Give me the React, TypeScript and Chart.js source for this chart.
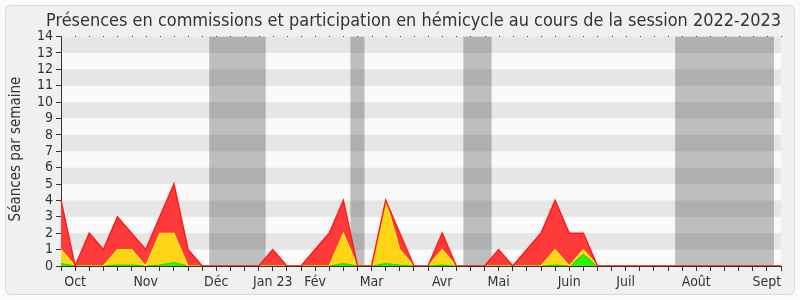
import React, { useEffect, useRef } from 'react';
import { Chart, registerables } from 'chart.js';

Chart.register(...registerables);

const FONT = '"DejaVu Sans Condensed", "DejaVu Sans", sans-serif';
const TEXT_COLOR = '#333333';

const titleText = 'Présences en commissions et participation en hémicycle au cours de la session 2022-2023';
const yAxisTitle = 'Séances par semaine';

// one category per week of the session
const weekLabels: string[] = [
  '', 'Oct', '', '', '', '', 'Nov', '', '', '', '',
  'Déc', '', '', '', 'Jan 23', '', '', 'Fév', '', '', '',
  'Mar', '', '', '', '', 'Avr', '', '', '', 'Mai', '', '', '', '',
  'Juin', '', '', '', 'Juil', '', '', '', '', 'Août', '', '', '', '',
  'Sept', '',
];

// red area (total)
const redSeries: number[] = [
  4, 0, 2, 1, 3, 2, 1, 3, 5, 1,
  0, 0, 0, 0, 0, 1, 0, 0, 1, 2,
  4, 0, 0, 4, 2, 0, 0, 2, 0, 0,
  0, 1, 0, 1, 2, 4, 2, 2, 0, 0,
  0, 0, 0, 0, 0, 0, 0, 0, 0, 0,
  0, 0,
];

// yellow area
const yellowSeries: number[] = [
  1, 0, 0, 0, 1, 1, 0, 2, 2, 0,
  0, 0, 0, 0, 0, 0, 0, 0, 0, 0,
  2, 0, 0, 4, 1, 0, 0, 1, 0, 0,
  0, 0, 0, 0, 0, 1, 0, 1, 0, 0,
  0, 0, 0, 0, 0, 0, 0, 0, 0, 0,
  0, 0,
];

// green area
const greenSeries: number[] = [
  0.15, 0, 0, 0, 0.05, 0.05, 0, 0.05, 0.2, 0,
  0, 0, 0, 0, 0, 0, 0, 0, 0, 0,
  0.15, 0, 0, 0.15, 0.05, 0, 0, 0.05, 0, 0,
  0, 0, 0, 0, 0, 0.05, 0, 0.7, 0, 0,
  0, 0, 0, 0, 0, 0, 0, 0, 0, 0,
  0, 0,
];

// parliamentary breaks, in week-index units
const breakRanges: [number, number][] = [
  [10.5, 14.5],
  [20.5, 21.5],
  [28.5, 30.5],
  [43.5, 50.5],
];

const backdropPlugin = {
  id: 'backdrop',
  afterLayout(chart: any) {
    // the reference centres its title a little right of the canvas centre
    if (chart.titleBlock) {
      chart.titleBlock.left = 46;
    }
  },
  beforeDraw(chart: any) {
    const { ctx, chartArea: a, scales } = chart;
    const xs = scales.x;
    const ys = scales.y;
    ctx.save();
    ctx.fillStyle = '#fafafa';
    ctx.fillRect(a.left, a.top, a.right - a.left, a.bottom - a.top);
    ctx.fillStyle = '#e6e6e6';
    for (let v = 1; v < ys.max; v += 2) {
      const top = ys.getPixelForValue(v + 1);
      const bot = ys.getPixelForValue(v);
      ctx.fillRect(a.left, top, a.right - a.left, bot - top);
    }
    ctx.fillStyle = 'rgba(0,0,0,0.24)';
    for (const [s, e] of breakRanges) {
      const x0 = xs.getPixelForValue(s);
      const x1 = xs.getPixelForValue(e);
      ctx.fillRect(x0, a.top, x1 - x0, a.bottom - a.top);
    }
    ctx.restore();
  },
  afterDraw(chart: any) {
    const { ctx, chartArea: a, scales } = chart;
    const xs = scales.x;
    ctx.save();
    ctx.fillStyle = '#444';
    xs.ticks.forEach((_t: any, i: number) => {
      const px = Math.round(xs.getPixelForTick(i));
      ctx.fillRect(px, Math.round(a.top) - 1, 1, 1);
    });
    ctx.translate(16, 149);
    ctx.rotate(-Math.PI / 2);
    ctx.font = `15px ${FONT}`;
    ctx.fillStyle = TEXT_COLOR;
    ctx.textAlign = 'center';
    ctx.textBaseline = 'middle';
    ctx.fillText(yAxisTitle, 0, 0);
    ctx.restore();
  },
};

export default function App() {
  const canvasRef = useRef<HTMLCanvasElement | null>(null);

  useEffect(() => {
    const canvas = canvasRef.current;
    if (!canvas) return;
    const lineDs = (data: number[], color: string, width: number) => ({
      data,
      borderColor: color,
      borderWidth: width,
      backgroundColor: 'transparent',
      fill: false,
      pointRadius: 0,
      tension: 0,
    });
    const fillDs = (data: number[], color: string) => ({
      data,
      borderWidth: 0,
      borderColor: 'transparent',
      backgroundColor: color,
      fill: 'origin',
      pointRadius: 0,
      tension: 0,
    });
    const chart = new Chart(canvas, {
      type: 'line',
      data: {
        labels: weekLabels,
        datasets: [
          lineDs(redSeries, '#ff1a1a', 1.5),
          lineDs(yellowSeries, '#fff01a', 1.2),
          lineDs(greenSeries, '#22dd00', 1.2),
          fillDs(greenSeries, '#33ee11'),
          fillDs(yellowSeries, '#ffd414'),
          fillDs(redSeries, '#ff3a3a'),
        ] as any,
      },
      options: {
        responsive: false,
        animation: false,
        devicePixelRatio: 1,
        layout: { padding: { left: 21, right: 19, top: 6, bottom: 0 } },
        plugins: {
          legend: { display: false },
          tooltip: { enabled: false },
          title: {
            display: true,
            text: titleText,
            color: TEXT_COLOR,
            font: { family: FONT, size: 18, weight: 'normal' },
            padding: { top: 5, bottom: 4 },
          },
        },
        scales: {
          x: {
            type: 'category',
            offset: false,
            z: 1,
            grid: { drawOnChartArea: false, drawTicks: true, tickLength: 5, color: '#333' },
            border: { display: true, color: '#333', width: 1 },
            ticks: {
              autoSkip: false,
              maxRotation: 0,
              minRotation: 0,
              padding: 3,
              color: TEXT_COLOR,
              font: { family: FONT, size: 14 },
            },
            afterFit: (s: any) => {
              s.height = 34;
            },
          },
          y: {
            min: 0,
            max: 14,
            z: 1,
            grid: { drawOnChartArea: false, drawTicks: true, tickLength: 5, color: '#333' },
            border: { display: true, color: '#333', width: 1 },
            ticks: {
              stepSize: 1,
              autoSkip: false,
              padding: 3,
              color: TEXT_COLOR,
              font: { family: FONT, size: 14 },
            },
            afterFit: (s: any) => {
              s.width = 40;
            },
          },
        },
      } as any,
      plugins: [backdropPlugin],
    });
    return () => chart.destroy();
  }, []);

  return (
    <div style={{ position: 'fixed', left: 0, top: 0, width: 800, height: 300, background: '#fbfbfb' }}>
      <div
        style={{
          position: 'absolute',
          left: 5,
          top: 5,
          width: 790,
          height: 290,
          boxSizing: 'border-box',
          border: '1px solid #dadada',
          borderRadius: 6,
          background: '#f0f0f0',
        }}
      />
      <canvas
        ref={canvasRef}
        width={800}
        height={300}
        style={{ position: 'absolute', left: 0, top: 0, width: 800, height: 300 }}
      />
    </div>
  );
}
